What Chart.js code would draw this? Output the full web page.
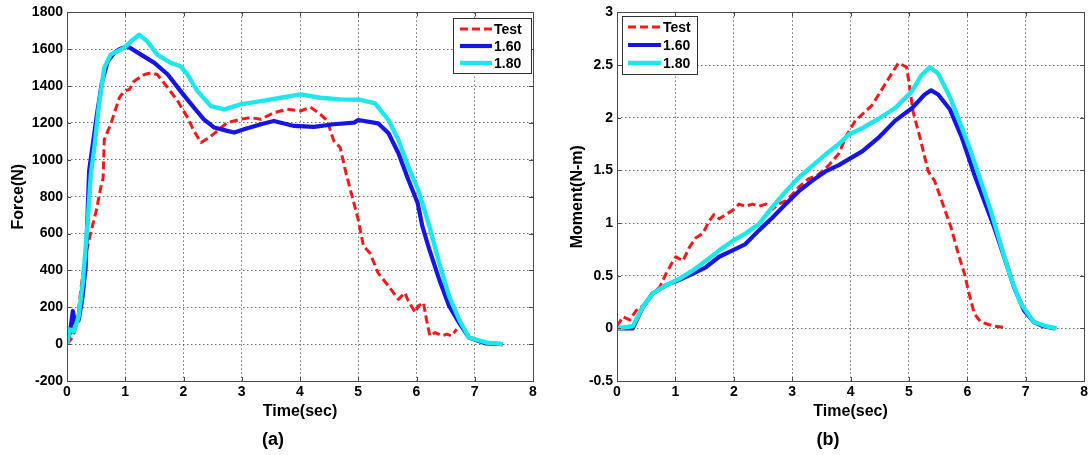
<!DOCTYPE html>
<html><head><meta charset="utf-8">
<script src="https://cdn.jsdelivr.net/npm/chart.js@4.4.0/dist/chart.umd.min.js"></script>
<style>
html,body{margin:0;padding:0;background:#fff;}
#wrap{position:relative;width:1091px;height:455px;background:#fff;}
canvas{position:absolute;top:0;}
</style></head><body>
<div id="wrap">
<canvas id="ca" width="545" height="455" style="left:0px"></canvas>
<canvas id="cb" width="545" height="455" style="left:546px"></canvas>
</div>
<script>
// ---------- DATA ----------
const seriesLabels = ['Test', '1.60', '1.80'];
const xTickLabels = ['0','1','2','3','4','5','6','7','8'];
const forceTickLabels = ['-200','0','200','400','600','800','1000','1200','1400','1600','1800'];
const momentTickLabels = ['-0.5','0','0.5','1','1.5','2','2.5','3'];

// (a) Force vs time
const tTestA = [0,0.05,0.1,0.17,0.25,0.33,0.42,0.5,0.58,0.62,0.64,0.75,0.9,0.98,1.07,1.15,1.33,1.44,1.55,1.73,1.9,2.07,2.18,2.3,2.44,2.58,2.75,2.98,3.15,3.33,3.55,3.78,4.01,4.18,4.35,4.47,4.58,4.69,4.78,4.88,5.0,5.09,5.2,5.34,5.52,5.69,5.8,5.86,5.98,6.03,6.12,6.17,6.23,6.32,6.44,6.52,6.6,6.69];
const fTestA = [0,20,40,110,330,500,620,720,850,900,1110,1193,1337,1373,1382,1427,1463,1472,1463,1391,1319,1229,1157,1094,1121,1157,1202,1220,1229,1220,1256,1274,1265,1286,1247,1211,1103,1067,941,820,676,532,495,387,315,243,279,234,171,207,225,135,45,63,45,54,45,81];

const tA160 = [0,0.05,0.1,0.14,0.2,0.26,0.32,0.38,0.45,0.52,0.6,0.7,0.81,0.9,1.04,1.27,1.5,1.73,1.95,2.18,2.35,2.53,2.75,2.87,3.04,3.33,3.55,3.9,4.24,4.58,4.93,5.0,5.34,5.52,5.69,5.86,6.02,6.1,6.22,6.39,6.56,6.73,6.9,7.19,7.48];
const fA160 = [20,60,180,110,130,240,420,941,1100,1260,1420,1535,1580,1600,1616,1571,1526,1463,1373,1283,1220,1175,1157,1148,1166,1193,1211,1184,1179,1193,1202,1216,1198,1144,1036,892,766,640,514,351,207,117,36,4,0];

const tA180 = [0,0.05,0.12,0.2,0.27,0.34,0.41,0.47,0.55,0.64,0.75,0.98,1.13,1.24,1.38,1.55,1.78,1.95,2.07,2.24,2.47,2.7,2.98,3.33,3.67,4.01,4.35,4.69,5.04,5.29,5.52,5.69,5.86,6.05,6.22,6.39,6.56,6.73,6.9,7.19,7.48];
const fA180 = [0,80,70,150,330,600,923,1067,1301,1499,1571,1607,1652,1679,1643,1571,1526,1508,1463,1373,1292,1274,1301,1319,1337,1355,1337,1328,1326,1306,1216,1108,964,820,640,441,261,135,36,9,0];

// (b) Moment vs time
const tTestB = [0,0.1,0.22,0.33,0.41,0.5,0.61,0.73,0.84,0.93,1.01,1.13,1.24,1.35,1.47,1.58,1.66,1.75,1.86,1.98,2.09,2.2,2.32,2.43,2.55,2.66,2.77,2.89,3.0,3.11,3.28,3.45,3.63,3.8,3.93,4.08,4.37,4.65,4.82,4.96,5.0,5.07,5.19,5.33,5.44,5.58,5.72,5.86,5.95,6.03,6.12,6.23,6.46,6.63];
const mTestB = [0.02,0.11,0.08,0.17,0.2,0.24,0.33,0.39,0.52,0.61,0.68,0.64,0.77,0.86,0.9,1.02,1.08,1.04,1.08,1.12,1.18,1.16,1.18,1.16,1.18,1.13,1.18,1.21,1.27,1.34,1.42,1.46,1.55,1.66,1.83,1.97,2.12,2.37,2.52,2.48,2.34,2.06,1.81,1.49,1.4,1.18,0.96,0.68,0.52,0.33,0.14,0.06,0.02,0.01];

const tB160 = [0,0.27,0.44,0.61,0.84,1.07,1.3,1.52,1.75,1.98,2.2,2.43,2.66,2.89,3.11,3.34,3.57,3.8,3.95,4.2,4.48,4.76,5.05,5.27,5.38,5.5,5.7,5.9,6.06,6.12,6.29,6.46,6.63,6.8,6.97,7.14,7.3,7.5];
const mB160 = [0,0,0.2,0.33,0.41,0.46,0.52,0.58,0.68,0.74,0.8,0.93,1.05,1.18,1.3,1.4,1.49,1.55,1.6,1.68,1.81,1.97,2.09,2.22,2.26,2.22,2.08,1.82,1.56,1.46,1.21,0.96,0.68,0.39,0.17,0.06,0.02,0];

const tB180 = [0,0.27,0.44,0.61,0.84,1.07,1.3,1.52,1.75,1.98,2.2,2.43,2.66,2.89,3.11,3.34,3.57,3.8,3.97,4.2,4.48,4.76,5.05,5.21,5.36,5.5,5.7,5.89,6.06,6.23,6.4,6.57,6.74,6.91,7.14,7.35,7.53];
const mB180 = [0,0.02,0.2,0.33,0.41,0.47,0.55,0.64,0.74,0.83,0.9,0.99,1.15,1.3,1.43,1.54,1.65,1.75,1.84,1.9,1.99,2.09,2.25,2.4,2.48,2.42,2.2,1.93,1.68,1.4,1.12,0.8,0.49,0.24,0.06,0.02,0];

// ---------- STYLE ----------
const FONT = '"Liberation Sans", Arial, Helvetica, sans-serif';
const colors = ['#f21a1a', '#1616e0', '#1ee6ea'];
const widths = [3, 4.2, 4.4];
const dashes = [[8,4], [], []];

function pts(ts, vs){ return ts.map((t,i)=>({x:t, y:vs[i]})); }

function makeDatasets(sets){
  return sets.map((s,i)=>({
    label: seriesLabels[i],
    data: pts(s[0], s[1]),
    borderColor: colors[i],
    backgroundColor: colors[i],
    borderWidth: widths[i],
    borderDash: dashes[i],
    borderJoinStyle: 'round',
    pointRadius: 0,
    tension: 0,
    fill: false,
    order: 3 - i
  }));
}

const framePlugin = {
  id: 'frameLegend',
  afterDraw(chart){
    const ctx = chart.ctx, a = chart.chartArea;
    const xs = chart.scales.x, ys = chart.scales.y;
    const L = chart.options.plugins.frameLegend;
    ctx.save();
    ctx.strokeStyle = '#4a4a4a';
    ctx.lineWidth = 1;
    ctx.setLineDash([]);
    ctx.strokeRect(Math.round(a.left)+0.5, Math.round(a.top)+0.5, Math.round(a.right-a.left), Math.round(a.bottom-a.top));
    // inward tick marks
    ctx.beginPath();
    xs.ticks.forEach(tk=>{
      const px = Math.round(xs.getPixelForValue(tk.value))+0.5;
      ctx.moveTo(px, a.bottom); ctx.lineTo(px, a.bottom-4);
      ctx.moveTo(px, a.top); ctx.lineTo(px, a.top+4);
    });
    ys.ticks.forEach(tk=>{
      const py = Math.round(ys.getPixelForValue(tk.value))+0.5;
      ctx.moveTo(a.left, py); ctx.lineTo(a.left+4, py);
      ctx.moveTo(a.right, py); ctx.lineTo(a.right-4, py);
    });
    ctx.stroke();
    // caption
    ctx.fillStyle = '#000';
    ctx.font = 'bold 18px ' + FONT;
    ctx.textAlign = 'center';
    ctx.textBaseline = 'middle';
    ctx.fillText(L.caption, L.capX, L.capY);
    // legend box
    ctx.fillStyle = '#fff';
    ctx.fillRect(L.x, L.y, L.w, L.h);
    ctx.strokeStyle = '#333';
    ctx.strokeRect(L.x+0.5, L.y+0.5, L.w, L.h);
    ctx.font = 'bold 14px ' + FONT;
    ctx.textBaseline = 'middle';
    ctx.textAlign = 'left';
    chart.data.datasets.forEach((ds,i)=>{
      const yy = L.rowY[i];
      ctx.beginPath();
      ctx.strokeStyle = ds.borderColor;
      ctx.lineWidth = ds.borderWidth;
      ctx.setLineDash(ds.borderDash || []);
      ctx.moveTo(L.lineX0, yy); ctx.lineTo(L.lineX1, yy);
      ctx.stroke();
      ctx.setLineDash([]);
      ctx.fillStyle = '#000';
      ctx.fillText(ds.label, L.textX, yy+1);
    });
    ctx.restore();
  }
};

function makeChart(id, datasets, o){
  return new Chart(document.getElementById(id), {
    type: 'line',
    data: { datasets },
    plugins: [framePlugin],
    options: {
      responsive: false,
      animation: false,
      devicePixelRatio: 1,
      layout: { padding: { top: 11, right: o.padRight, left: 0, bottom: 30 } },
      plugins: {
        legend: { display: false },
        tooltip: { enabled: false },
        title: { display: false },
        frameLegend: o.legend
      },
      scales: {
        x: {
          type: 'linear', min: 0, max: 8,
          ticks: { stepSize: 1, color: '#000', padding: 3, maxRotation: 0,
                   font: { size: 14, weight: 'bold', family: FONT },
                   callback: (v, i) => xTickLabels[i] },
          grid: { color: 'rgba(60,60,60,0.75)', lineWidth: 1, drawTicks: false },
          border: { display: false, dash: [1.5, 2.5] },
          title: { display: true, text: 'Time(sec)', color: '#000',
                   font: { size: 16, weight: 'bold', family: FONT }, padding: { top: 0, bottom: 4 } },
          afterFit: s => { s.height = 44; }
        },
        y: {
          type: 'linear', min: o.yMin, max: o.yMax,
          ticks: { stepSize: o.yStep, color: '#000', padding: 4,
                   font: { size: 14, weight: 'bold', family: FONT },
                   callback: (v, i) => o.yLabels[i] },
          grid: { color: 'rgba(60,60,60,0.75)', lineWidth: 1, drawTicks: false },
          border: { display: false, dash: [1.5, 2.5] },
          title: { display: true, text: o.yTitle, color: '#000',
                   font: { size: 16, weight: 'bold', family: FONT }, padding: { top: o.yTitlePad, bottom: 0 } },
          afterFit: s => { s.width = o.yWidth; }
        }
      }
    }
  });
}

makeChart('ca', makeDatasets([[tTestA,fTestA],[tA160,fA160],[tA180,fA180]]), {
  padRight: 12, yMin: -200, yMax: 1800, yStep: 200, yLabels: forceTickLabels,
  yTitle: 'Force(N)', yTitlePad: 9, yWidth: 67,
  legend: { caption: '(a)', capX: 273, capY: 440,
            x: 453, y: 18, w: 78, h: 55, rowY: [29, 46, 63], lineX0: 460, lineX1: 492, textX: 494 }
});

makeChart('cb', makeDatasets([[tTestB,mTestB],[tB160,mB160],[tB180,mB180]]), {
  padRight: 6, yMin: -0.5, yMax: 3, yStep: 0.5, yLabels: momentTickLabels,
  yTitle: 'Moment(N-m)', yTitlePad: 22, yWidth: 71,
  legend: { caption: '(b)', capX: 282, capY: 440,
            x: 76, y: 16, w: 75, h: 58, rowY: [27, 45, 63], lineX0: 82, lineX1: 115, textX: 117 }
});
</script>
</body></html>
